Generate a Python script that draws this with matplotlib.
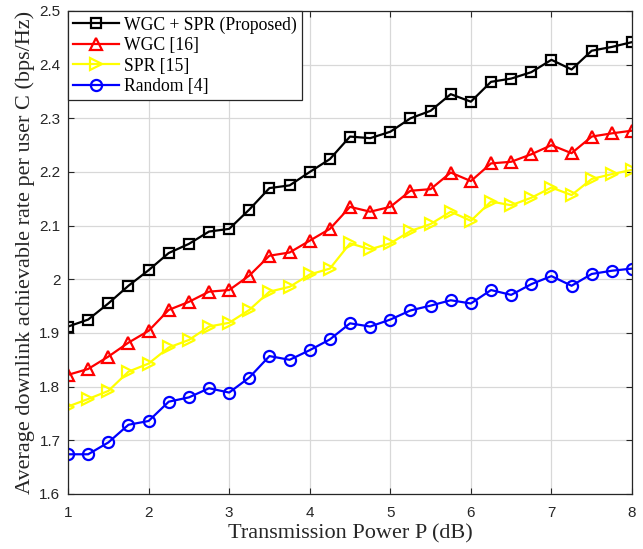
import numpy as np
import matplotlib
matplotlib.use("Agg")
import matplotlib.pyplot as plt

power_db = [1, 1.25, 1.5, 1.75, 2, 2.25, 2.5, 2.75, 3, 3.25, 3.5, 3.75, 4, 4.25, 4.5,
            4.75, 5, 5.25, 5.5, 5.75, 6, 6.25, 6.5, 6.75, 7, 7.25, 7.5, 7.75, 8]

wgc_spr = [1.912, 1.925, 1.955, 1.988, 2.017, 2.049, 2.066, 2.089, 2.094, 2.130, 2.170,
           2.175, 2.200, 2.224, 2.266, 2.263, 2.275, 2.300, 2.314, 2.345, 2.331, 2.368,
           2.374, 2.386, 2.409, 2.391, 2.426, 2.433, 2.442]
wgc = [1.822, 1.833, 1.856, 1.882, 1.904, 1.943, 1.958, 1.977, 1.980, 2.007, 2.044,
       2.050, 2.072, 2.094, 2.135, 2.126, 2.135, 2.165, 2.168, 2.199, 2.183, 2.216,
       2.219, 2.233, 2.250, 2.235, 2.266, 2.272, 2.277]
spr = [1.763, 1.777, 1.792, 1.828, 1.843, 1.873, 1.887, 1.912, 1.919, 1.943, 1.977,
       1.986, 2.009, 2.020, 2.067, 2.056, 2.067, 2.090, 2.103, 2.126, 2.109, 2.145,
       2.138, 2.152, 2.171, 2.157, 2.187, 2.196, 2.204]
random_sel = [1.674, 1.674, 1.696, 1.729, 1.736, 1.772, 1.780, 1.797, 1.789, 1.817, 1.857,
              1.850, 1.868, 1.888, 1.918, 1.912, 1.925, 1.942, 1.951, 1.961, 1.955, 1.980,
              1.971, 1.991, 2.006, 1.988, 2.010, 2.016, 2.020]

labels = ["WGC + SPR (Proposed)", "WGC [16]", "SPR [15]", "Random [4]"]

serif = ["Liberation Serif", "DejaVu Serif"]
sans = ["Liberation Sans", "DejaVu Sans"]

fig = plt.figure(figsize=(6.43, 5.49), dpi=100)
ax = fig.add_axes([0.1058, 0.1002, 0.8771, 0.8798])

ax.plot(power_db, wgc_spr, color="black", lw=1.6, marker="s", ms=6.5, mfc="none",
        mew=1.6, label=labels[0])
ax.plot(power_db, wgc, color="red", lw=1.6, marker="^", ms=9, mfc="none",
        mew=1.6, label=labels[1])
ax.plot(power_db, spr, color="#ffff00", lw=1.6, marker=">", ms=9, mfc="none",
        mew=1.6, label=labels[2])
ax.plot(power_db, random_sel, color="blue", lw=1.6, marker="o", ms=8, mfc="none",
        mew=1.6, label=labels[3])

ax.set_xlim(1, 8)
ax.set_ylim(1.6, 2.5)
ax.set_xticks(np.arange(1, 9, 1))
ax.set_yticks(np.arange(1.6, 2.51, 0.1))
ax.set_xticklabels([f"{v:g}" for v in range(1, 9)], fontfamily=sans, fontsize=11)
ax.set_yticklabels([f"{v:g}" if abs(v - 2) < 1e-9 else f"{v:.1f}"
                    for v in np.arange(1.6, 2.51, 0.1)], fontfamily=sans, fontsize=11)
ax.tick_params(direction="in", top=True, right=True, length=4, width=0.8, colors="#262626")
ax.tick_params(axis="y", pad=5.5)
ax.tick_params(axis="x", pad=8.5)

ax.grid(True, color="#d8d8d8", lw=0.9)
ax.set_axisbelow(True)
for s in ax.spines.values():
    s.set_color("#262626")
    s.set_linewidth(0.9)

ax.set_xlabel("Transmission Power P (dB)", fontfamily=serif, fontsize=16, color="#262626",
              labelpad=3.5)
ax.set_ylabel("Average downlink achievable rate per user C (bps/Hz)", fontfamily=serif,
              fontsize=16, color="#262626", labelpad=3)

leg = ax.legend(loc="upper left", prop={"family": serif, "size": 12.7}, frameon=True,
                fancybox=False, edgecolor="#262626", framealpha=1, borderaxespad=0,
                handlelength=2.6, labelspacing=0.2, borderpad=0.3, handletextpad=0.25)
leg.get_frame().set_linewidth(0.9)

fig.savefig("out.png", dpi=100)
